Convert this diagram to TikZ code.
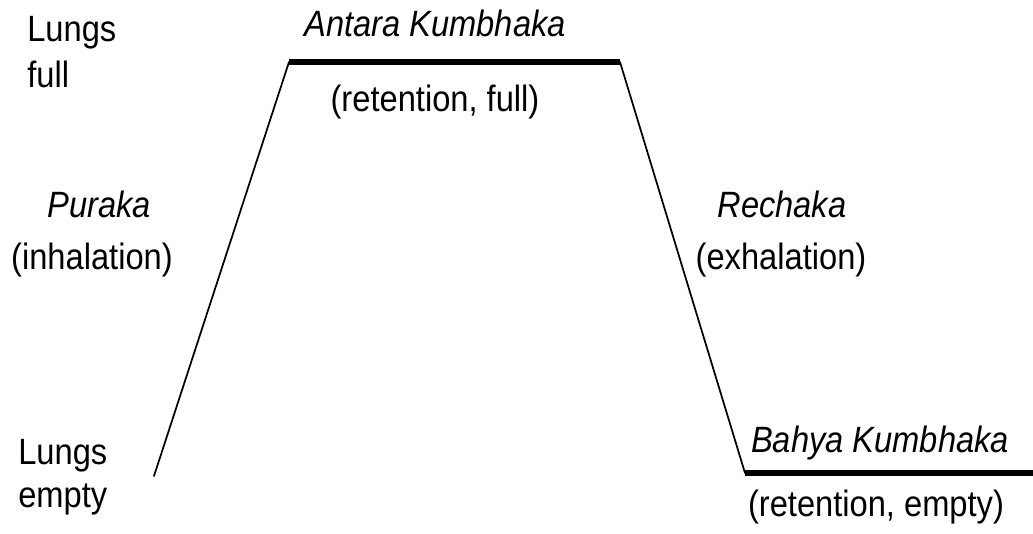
\documentclass[tikz,border=0pt]{standalone}
\usepackage{fontspec}
\setmainfont{Liberation Sans}
\newcommand\tallt[1]{\scalebox{1}[1.12]{#1}}
\begin{document}
\begin{tikzpicture}[x=0.75pt,y=-0.75pt,
  lbl/.style={font=\fontsize{24.5}{28}\selectfont, inner sep=0pt, anchor=base},
  lbll/.style={lbl, anchor=base west},
  ital/.style={lbl, font=\fontsize{24.5}{28}\selectfont\itshape},
  thin/.style={line width=1.3pt, line cap=round},
  thick/.style={line width=4.2pt}]
\useasboundingbox (0,0) rectangle (1033,534);
\coordinate (lb) at (154,476);
\coordinate (lt) at (289,62);
\coordinate (rt) at (620,62);
\coordinate (rb) at (745,473);
\coordinate (re) at (1033,473);
\draw[thin] (lb) -- (lt);
\draw[thick] (lt) -- (rt);
\draw[thin] (rt) -- (rb);
\draw[thick] (rb) -- (re);
\node[lbll] (lf1) at (27,42) {\tallt{Lungs}};
\node[lbll] (lf2) at (27,88) {\tallt{full}};
\node[lbll] (le1) at (18,465) {\tallt{Lungs}};
\node[lbll] (le2) at (18,508) {\tallt{empty}};
\node[ital] (ak) at (435,37) {\tallt{Antara Kumbhaka}};
\node[lbl] (akr) at (435,112) {\tallt{(retention, full)}};
\node[ital] (pu) at (99,218) {\tallt{Puraka}};
\node[lbl] (pur) at (92,270) {\tallt{(inhalation)}};
\node[ital] (re1) at (782,218) {\tallt{Rechaka}};
\node[lbl] (rer) at (781,270) {\tallt{(exhalation)}};
\node[ital] (bk) at (880,453) {\tallt{Bahya Kumbhaka}};
\node[lbl] (bkr) at (876,517) {\tallt{(retention, empty)}};
\end{tikzpicture}
\end{document}
